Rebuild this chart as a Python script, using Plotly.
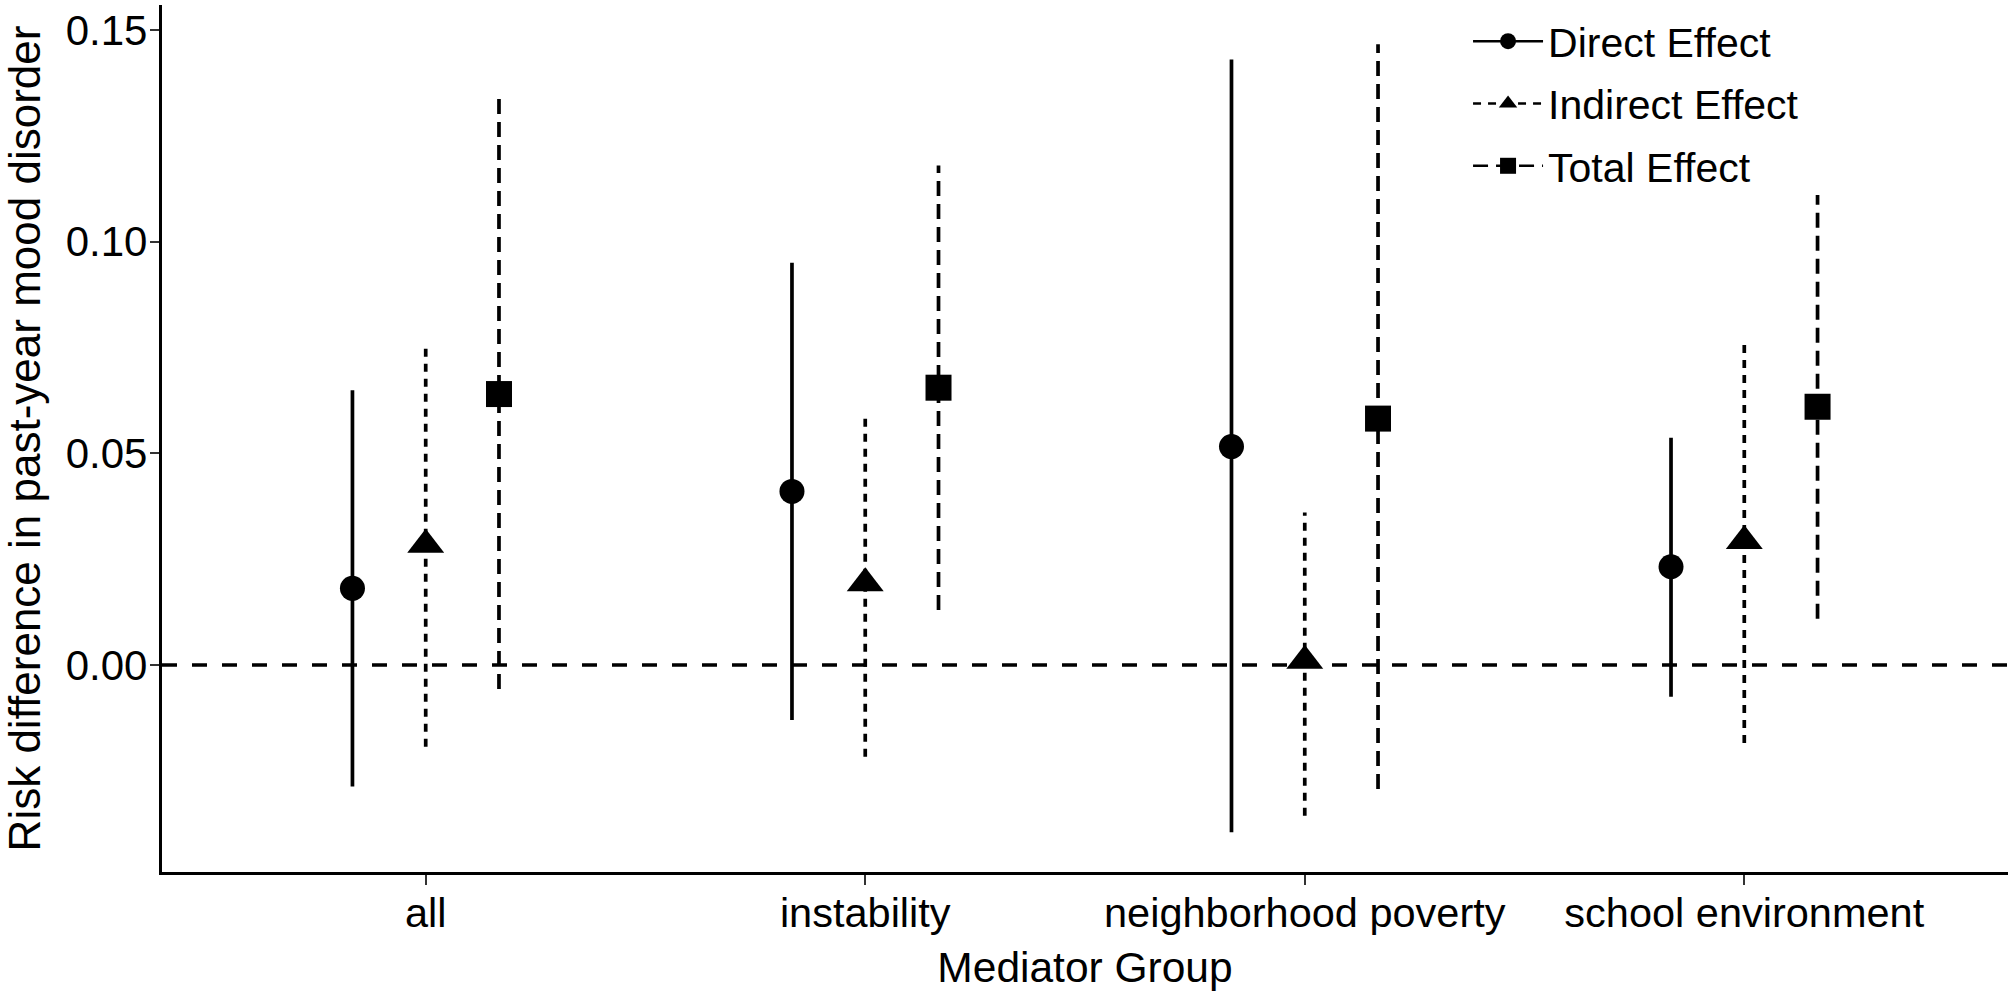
import plotly.graph_objects as go

categories = ["all", "instability", "neighborhood poverty", "school environment"]
effects = ["Direct Effect", "Indirect Effect", "Total Effect"]

direct_est = [0.0181, 0.0410, 0.0516, 0.0232]
direct_lo = [-0.0287, -0.0130, -0.0395, -0.0075]
direct_hi = [0.0649, 0.0950, 0.1430, 0.0537]

indirect_est = [0.0284, 0.0193, 0.0010, 0.0293]
indirect_lo = [-0.0193, -0.0217, -0.0356, -0.0184]
indirect_hi = [0.0751, 0.0585, 0.0360, 0.0760]

total_est = [0.0640, 0.0655, 0.0582, 0.0610]
total_lo = [-0.0057, 0.0130, -0.0293, 0.0109]
total_hi = [0.1337, 0.1180, 0.1466, 0.1110]

y_ticks = [0.00, 0.05, 0.10, 0.15]
y_tick_text = ["0.00", "0.05", "0.10", "0.15"]

series = [
    (effects[0], direct_est, direct_lo, direct_hi, "circle", 25, "solid", -1),
    (effects[1], indirect_est, indirect_lo, indirect_hi, "triangle-up", 32, "8px,7px", 0),
    (effects[2], total_est, total_lo, total_hi, "square", 26, "15px,8px", 1),
]
dodge = 0.1667
FONT = "Liberation Sans, Arial, sans-serif"

fig = go.Figure()
for name, est, lo, hi, sym, msize, dash, k in series:
    xs, ys = [], []
    for i in range(len(categories)):
        x = i + 1 + k * dodge
        xs += [x, x, None]
        ys += [lo[i], hi[i], None]
    fig.add_trace(go.Scatter(
        x=xs, y=ys, mode="lines", showlegend=False, hoverinfo="skip",
        line=dict(color="black", width=3.7, dash=dash),
    ))
for name, est, lo, hi, sym, msize, dash, k in series:
    xs, ys = [], []
    for i in range(len(categories)):
        xs += [i + 1 + k * dodge, None]
        ys += [est[i], None]
    fig.add_trace(go.Scatter(
        x=xs, y=ys, mode="lines+markers", name=name, legendgroup=name,
        connectgaps=False,
        marker=dict(symbol=sym, size=msize, color="black", line=dict(width=0)),
        line=dict(color="black", width=2.5, dash=dash),
    ))

fig.add_shape(type="line", xref="paper", x0=0, x1=1, yref="y", y0=0, y1=0,
              line=dict(color="black", width=3.5, dash="15px,15px"), layer="below")

fig.update_layout(
    width=2010, height=995,
    paper_bgcolor="white", plot_bgcolor="white",
    margin=dict(l=162, r=2, t=5, b=123, autoexpand=False),
    font=dict(family=FONT, size=40, color="black"),
    showlegend=True,
    legend=dict(x=0.7075, y=0.9965, xanchor="left", yanchor="top",
                bgcolor="rgba(0,0,0,0)", font=dict(size=41, color="black"),
                tracegroupgap=6, itemwidth=70),
    xaxis=dict(
        range=[0.4, 4.6], tickmode="array",
        tickvals=[1, 2, 3, 4], ticktext=categories,
        showgrid=False, zeroline=False, automargin=False,
        showline=True, linecolor="black", linewidth=3.3,
        ticks="outside", ticklen=10, tickwidth=2, tickcolor="#333333",
        ticklabelstandoff=-8,
        tickfont=dict(size=41.5, color="black", family=FONT),
        title=dict(text="Mediator Group", font=dict(size=42.5, color="black", family=FONT), standoff=18),
    ),
    yaxis=dict(
        range=[-0.0489, 0.1559], tickmode="array",
        tickvals=y_ticks, ticktext=y_tick_text,
        showgrid=False, zeroline=False, automargin=False,
        showline=True, linecolor="black", linewidth=3.3,
        ticks="outside", ticklen=9, tickwidth=2, tickcolor="#333333",
        ticklabelstandoff=-6,
        tickfont=dict(size=42, color="black", family=FONT),
        title=dict(text="Risk difference in past-year mood disorder", font=dict(size=44, color="black", family=FONT), standoff=14),
    ),
)

fig.write_html("out.html", post_script="document.body.style.margin='0';",
               config={"displayModeBar": False})
